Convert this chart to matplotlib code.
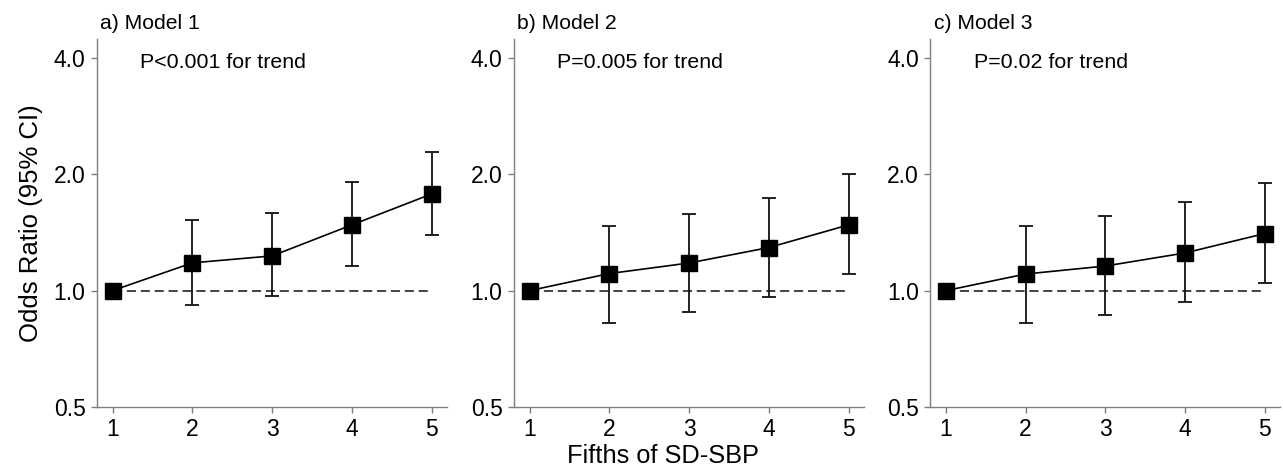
import matplotlib
matplotlib.use('Agg')
import matplotlib.pyplot as plt
import numpy as np
from matplotlib.ticker import FixedLocator, NullLocator

plt.rcParams['font.family'] = ['Liberation Sans', 'DejaVu Sans']

# Data (odds ratios and 95% CI, fifths of SD-SBP)
fifths = [1, 2, 3, 4, 5]
panel_titles = ['a) Model 1', 'b) Model 2', 'c) Model 3']
trend_labels = ['P<0.001 for trend', 'P=0.005 for trend', 'P=0.02 for trend']

or_m1 = [1.0, 1.18, 1.23, 1.48, 1.78]
lo_m1 = [1.0, 0.92, 0.967, 1.156, 1.39]
hi_m1 = [1.0, 1.52, 1.59, 1.91, 2.29]

or_m2 = [1.0, 1.107, 1.179, 1.293, 1.48]
lo_m2 = [1.0, 0.826, 0.878, 0.963, 1.102]
hi_m2 = [1.0, 1.474, 1.584, 1.739, 2.0]

or_m3 = [1.0, 1.104, 1.158, 1.252, 1.406]
lo_m3 = [1.0, 0.826, 0.866, 0.932, 1.045]
hi_m3 = [1.0, 1.474, 1.559, 1.695, 1.899]

y_ticks = [0.5, 1.0, 2.0, 4.0]
y_ticklabels = ['0.5', '1.0', '2.0', '4.0']

models = [(or_m1, lo_m1, hi_m1), (or_m2, lo_m2, hi_m2), (or_m3, lo_m3, hi_m3)]

fig = plt.figure(figsize=(12.83, 4.72), dpi=100)
lefts = [96.7, 513.7, 930.0]
W, H = 1283.0, 472.0
axes = []
for left in lefts:
    ax = fig.add_axes([left / W, (H - 406.7) / H, 350 / W, 367.7 / H])
    axes.append(ax)

spine_col = '#7f7f7f'
for ax, (ors, lo, hi), title, trend in zip(axes, models, panel_titles, trend_labels):
    ors = np.array(ors)
    yerr = np.vstack([ors - np.array(lo), np.array(hi) - ors])
    # reference line at OR = 1
    ax.plot([fifths[0], fifths[-1]], [1.0, 1.0], color='#1a1a1a', lw=1.15,
            linestyle=(0, (5.7, 3.0)), zorder=1)
    ax.errorbar(fifths, ors, yerr=yerr, fmt='none', ecolor='#111111',
                elinewidth=1.3, capsize=5, capthick=1.3, zorder=2)
    ax.plot(fifths, ors, color='black', lw=1.2, marker='s', markersize=11.5,
            markerfacecolor='black', markeredgecolor='black', zorder=3)

    ax.set_yscale('log')
    ax.set_ylim(0.5, 4.49)
    ax.set_xlim(0.8, 5.19)
    ax.yaxis.set_major_locator(FixedLocator(y_ticks))
    ax.yaxis.set_minor_locator(NullLocator())
    ax.set_yticklabels(y_ticklabels)
    ax.set_xticks(fifths)
    ax.set_xticklabels([str(f) for f in fifths])

    for s in ['top', 'right']:
        ax.spines[s].set_visible(False)
    for s in ['left', 'bottom']:
        ax.spines[s].set_color(spine_col)
        ax.spines[s].set_linewidth(1.0)
    ax.tick_params(axis='both', direction='out', length=4, width=1.0,
                   color=spine_col, labelsize=16.5, labelcolor='black', pad=4)

    ax.text(0.01, 1.015, title, transform=ax.transAxes, fontsize=15.2,
            ha='left', va='bottom')
    ax.text(0.125, 0.935, trend, transform=ax.transAxes, fontsize=15.4,
            ha='left', va='center')

axes[0].set_ylabel('Odds Ratio (95% CI)', fontsize=18.5, labelpad=8)
fig.text(663 / W, 1 - 456 / H, 'Fifths of SD-SBP', fontsize=18.3,
         ha='center', va='center')

fig.savefig('out.png', dpi=100)
